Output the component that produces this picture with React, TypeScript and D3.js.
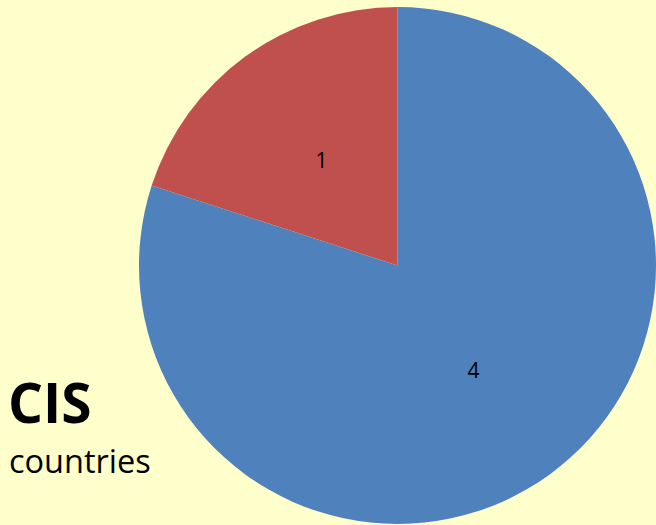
import * as d3 from "d3";
import { useRef, useEffect } from "react";

// slice data
const labels = ["4", "1"];
const values = [4, 1];
const colors = ["#4F81BD", "#C0504D"];

const W = 656;
const H = 525;

export default function App() {
  const svgRef = useRef<SVGSVGElement>(null);

  useEffect(() => {
    if (!svgRef.current) return;
    document.body.style.margin = "0";
    const svg = d3.select(svgRef.current);
    svg.selectAll("*").remove();

    svg.append("rect").attr("width", W).attr("height", H).attr("fill", "#FFFFCC");

    const cx = 397.5;
    const cy = 265.5;
    const R = 258.5;

    const pie = d3.pie<number>().sort(null).value((d) => d);
    const arcs = pie(values);
    const arc = d3.arc<d3.PieArcDatum<number>>().innerRadius(0).outerRadius(R);
    const labelArc = d3
      .arc<d3.PieArcDatum<number>>()
      .innerRadius(R * 0.5)
      .outerRadius(R * 0.5);

    const g = svg.append("g").attr("transform", `translate(${cx},${cy})`);

    g.selectAll("path")
      .data(arcs)
      .enter()
      .append("path")
      .attr("d", arc)
      .attr("fill", (_, i) => colors[i]);

    g.selectAll("text")
      .data(arcs)
      .enter()
      .append("text")
      .attr("transform", (d) => `translate(${labelArc.centroid(d)})`)
      .attr("text-anchor", "middle")
      .attr("dy", "0.36em")
      .attr("font-family", "'Open Sans', sans-serif")
      .attr("font-size", 21)
      .attr("fill", "#000")
      .text((_, i) => labels[i]);

    // title
    svg
      .append("text")
      .attr("x", 8)
      .attr("y", 423)
      .attr("font-family", "'Open Sans', sans-serif")
      .attr("font-weight", "bold")
      .attr("font-size", 55)
      .attr("fill", "#000")
      .text("CIS");
    svg
      .append("text")
      .attr("x", 9)
      .attr("y", 473)
      .attr("font-family", "'Open Sans', sans-serif")
      .attr("font-size", 32.5)
      .attr("fill", "#000")
      .text("countries");
  }, []);

  return (
    <svg
      ref={svgRef}
      width={W}
      height={H}
      style={{ display: "block", position: "absolute", left: 0, top: 0 }}
    />
  );
}
